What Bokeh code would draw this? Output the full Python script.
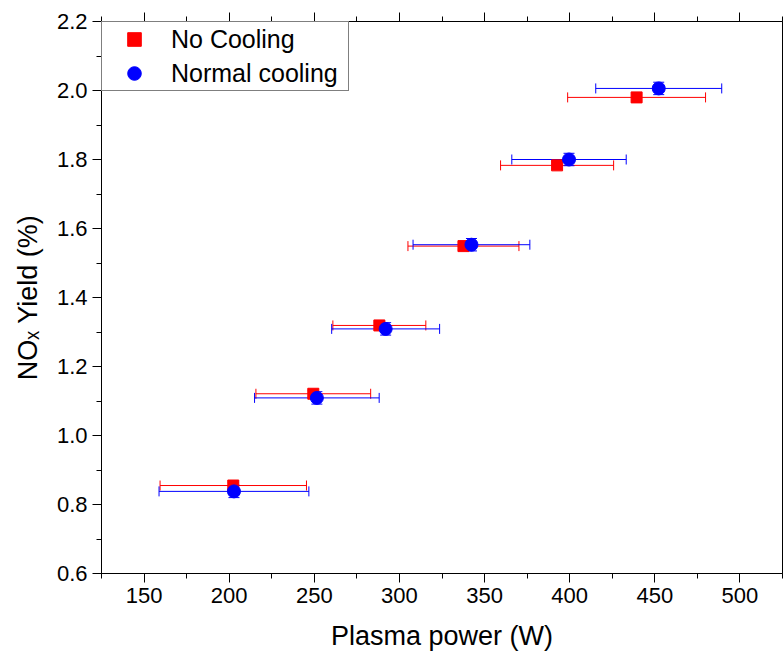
from bokeh.plotting import figure
from bokeh.models import (ColumnDataSource, Whisker, TeeHead, Legend, LegendItem,
                          LinearAxis, SingleIntervalTicker, PrintfTickFormatter,
                          CustomJSTickFormatter, Range1d)
from bokeh.embed import file_html
from bokeh.resources import INLINE

# Measured NOx yield vs. plasma power, with and without cooling
power_no_cooling = [202.4, 249.4, 288.2, 337.6, 392.6, 439.3]
yield_no_cooling = [0.855, 1.121, 1.319, 1.549, 1.783, 1.980]
power_err_no_cooling = [43.0, 33.7, 27.3, 32.6, 33.2, 40.5]
yield_err_no_cooling = [0.010, 0.010, 0.010, 0.010, 0.010, 0.010]

power_normal = [202.8, 251.5, 291.9, 342.3, 399.6, 452.3]
yield_normal = [0.838, 1.109, 1.309, 1.553, 1.800, 2.006]
power_err_normal = [44.0, 36.6, 31.7, 34.3, 33.6, 37.0]
yield_err_normal = [0.018, 0.018, 0.018, 0.018, 0.018, 0.018]

series_labels = ["No Cooling", "Normal cooling"]
x_title = "Plasma power (W)"
y_title = "NO\u2093 Yield (%)"

X_START, X_END = 125, 525
Y_START, Y_END = 0.6, 2.2

FONT = "Liberation Sans"


def make_source(x, y, xe, ye):
    return ColumnDataSource(dict(
        x=x, y=y,
        xl=[a - e for a, e in zip(x, xe)], xu=[a + e for a, e in zip(x, xe)],
        yl=[b - e for b, e in zip(y, ye)], yu=[b + e for b, e in zip(y, ye)],
    ))


src_nc = make_source(power_no_cooling, yield_no_cooling, power_err_no_cooling, yield_err_no_cooling)
src_cool = make_source(power_normal, yield_normal, power_err_normal, yield_err_normal)

p = figure(width=783, height=657,
           x_range=Range1d(X_START, X_END), y_range=Range1d(Y_START, Y_END),
           output_backend="svg", toolbar_location=None,
           min_border_left=101, min_border_right=1, min_border_top=21, min_border_bottom=84,
           background_fill_color="white", border_fill_color="white")

p.xgrid.visible = False
p.ygrid.visible = False
p.outline_line_color = "black"
p.outline_line_width = 1

# bottom axis
xa = p.xaxis[0]
xa.ticker = SingleIntervalTicker(interval=50, num_minor_ticks=2)
xa.axis_label = x_title
xa.axis_label_text_font = FONT
xa.axis_label_text_font_size = "27px"
xa.axis_label_text_font_style = "normal"
xa.axis_label_text_color = "black"
xa.axis_label_standoff = 15
xa.major_label_text_font = FONT
xa.major_label_text_font_size = "22px"
xa.major_label_text_color = "black"
xa.major_label_standoff = 5
xa.major_tick_out = 9
xa.major_tick_in = 0
xa.minor_tick_out = 5
xa.minor_tick_in = 0
xa.axis_line_color = "black"
xa.major_tick_line_color = "black"
xa.minor_tick_line_color = "black"

# left axis
ya = p.yaxis[0]
ya.ticker = SingleIntervalTicker(interval=0.2, num_minor_ticks=2)
ya.formatter = PrintfTickFormatter(format="%.1f")
ya.axis_label = y_title
ya.axis_label_text_font = FONT
ya.axis_label_text_font_size = "27px"
ya.axis_label_text_font_style = "normal"
ya.axis_label_text_color = "black"
ya.axis_label_standoff = 11
ya.major_label_text_font = FONT
ya.major_label_text_font_size = "22px"
ya.major_label_text_color = "black"
ya.major_label_standoff = 5
ya.major_tick_out = 9
ya.major_tick_in = 0
ya.minor_tick_out = 5
ya.minor_tick_in = 0
ya.axis_line_color = "black"
ya.major_tick_line_color = "black"
ya.minor_tick_line_color = "black"

# top axis: ticks only
top = LinearAxis(ticker=SingleIntervalTicker(interval=50, num_minor_ticks=2),
                 formatter=CustomJSTickFormatter(code="return ''"),
                 major_label_standoff=0,
                 major_tick_out=9, major_tick_in=0,
                 minor_tick_out=5, minor_tick_in=0, axis_line_color="black",
                 major_tick_line_color="black", minor_tick_line_color="black")
p.add_layout(top, "above")

# error bars (horizontal: power, vertical: yield)
for src, col in ((src_nc, "red"), (src_cool, "blue")):
    p.add_layout(Whisker(source=src, base="y", lower="xl", upper="xu", dimension="width",
                         line_color=col, line_width=1,
                         upper_head=TeeHead(size=10, line_color=col, line_width=1),
                         lower_head=TeeHead(size=10, line_color=col, line_width=1)))
    p.add_layout(Whisker(source=src, base="x", lower="yl", upper="yu", dimension="height",
                         line_color=col, line_width=1,
                         upper_head=TeeHead(size=11, line_color=col, line_width=1),
                         lower_head=TeeHead(size=11, line_color=col, line_width=1)))

r_nc = p.scatter("x", "y", source=src_nc, marker="square", size=11,
                 fill_color="red", line_color="red")
r_cool = p.scatter("x", "y", source=src_cool, marker="circle", size=13,
                   fill_color="blue", line_color="blue")

legend = Legend(items=[LegendItem(label=series_labels[0], renderers=[r_nc]),
                       LegendItem(label=series_labels[1], renderers=[r_cool])],
                location="top_left", margin=0, padding=0, spacing=0,
                glyph_width=64, glyph_height=34, label_height=34, label_width=177,
                label_standoff=5, label_text_font=FONT, label_text_font_size="25px",
                label_text_color="black",
                border_line_color="black", border_line_width=1,
                background_fill_color="white", background_fill_alpha=1)
p.add_layout(legend)

open("out.html", "w").write(file_html(p, INLINE))
